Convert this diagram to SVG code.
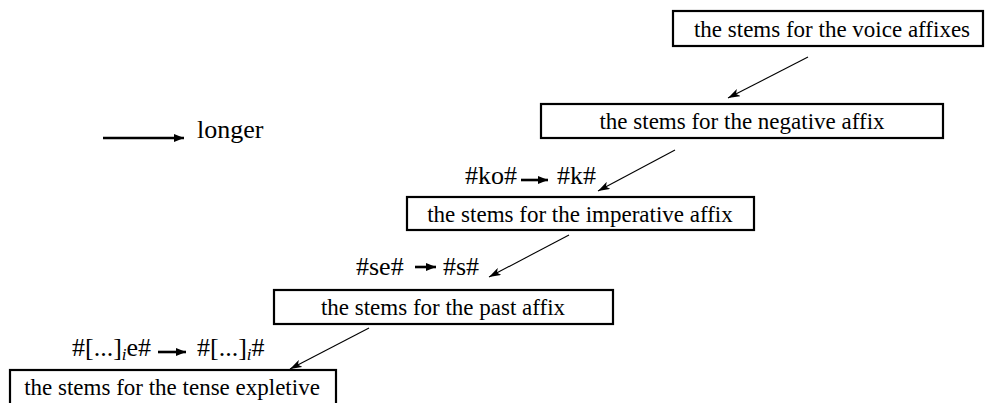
<svg xmlns="http://www.w3.org/2000/svg" width="985" height="403" viewBox="0 0 985 403" font-family="'Liberation Serif', Tinos, 'Times New Roman', Times, 'DejaVu Serif', serif">
  <style>
    .box rect { fill: #fff; stroke: #000; stroke-width: 2.2; }
    .box text { font-family: 'Liberation Serif', Tinos, 'Times New Roman', Times, 'DejaVu Serif', serif; font-size: 23px; fill: #000; text-anchor: middle; }
    .lbl { font-family: 'Liberation Serif', Tinos, 'Times New Roman', Times, 'DejaVu Serif', serif; font-size: 26px; fill: #000; }
    .sub { font-style: italic; font-size: 17px; }
    .conn { stroke: #000; stroke-width: 1.1; fill: none; marker-end: url(#head); }
    .rule { stroke: #000; stroke-width: 2.6; fill: none; marker-end: url(#bold); }
  </style>
  <defs>
    <marker id="head" viewBox="0 0 12 8" refX="12" refY="4" markerWidth="12" markerHeight="8" markerUnits="userSpaceOnUse" orient="auto">
      <path d="M0,0 L12,4 L0,8 L3,4 Z" fill="#000"/>
    </marker>
    <marker id="bold" viewBox="0 0 10 8" refX="10" refY="4" markerWidth="10" markerHeight="8" markerUnits="userSpaceOnUse" orient="auto">
      <path d="M0,0 L10,4 L0,8 Z" fill="#000"/>
    </marker>
  </defs>

  <!-- stem classes -->
  <g id="voice" class="box">
    <rect x="673" y="11" width="310" height="35"/>
    <text x="832" y="37">the stems for the voice affixes</text>
  </g>
  <g id="negative" class="box">
    <rect x="541" y="104" width="402" height="34"/>
    <text x="742" y="129">the stems for the negative affix</text>
  </g>
  <g id="imperative" class="box">
    <rect x="407" y="197" width="347" height="33"/>
    <text x="580" y="222">the stems for the imperative affix</text>
  </g>
  <g id="past" class="box">
    <rect x="274" y="290" width="339" height="34"/>
    <text x="443" y="315">the stems for the past affix</text>
  </g>
  <g id="tense" class="box">
    <rect x="10" y="370" width="326" height="40"/>
    <text x="172" y="395">the stems for the tense expletive</text>
  </g>

  <!-- legend -->
  <g id="legend">
    <line class="rule" x1="103" y1="138" x2="184" y2="138"/>
    <text class="lbl" x="197" y="138">longer</text>
  </g>

  <!-- rewrite rules -->
  <g id="rule-ko">
    <text class="lbl" x="465" y="184">#ko#</text>
    <line class="rule" x1="521" y1="180" x2="548" y2="180"/>
    <text class="lbl" x="557" y="184">#k#</text>
  </g>
  <g id="rule-se">
    <text class="lbl" x="356" y="275">#se#</text>
    <line class="rule" x1="415" y1="267" x2="436" y2="267"/>
    <text class="lbl" x="443" y="275">#s#</text>
  </g>
  <g id="rule-e">
    <text class="lbl" x="72" y="356">#[...]<tspan class="sub" dy="4">i</tspan><tspan dy="-4">e#</tspan></text>
    <line class="rule" x1="158" y1="352" x2="186" y2="352"/>
    <text class="lbl" x="197" y="356">#[...]<tspan class="sub" dy="4">i</tspan><tspan dy="-4">#</tspan></text>
  </g>

  <!-- ordering connectors -->
  <g id="connectors">
    <line class="conn" x1="808" y1="57" x2="728" y2="98"/>
    <line class="conn" x1="675" y1="150" x2="598" y2="191"/>
    <line class="conn" x1="569" y1="235" x2="489" y2="277"/>
    <line class="conn" x1="369" y1="328" x2="290" y2="369"/>
  </g>
</svg>
